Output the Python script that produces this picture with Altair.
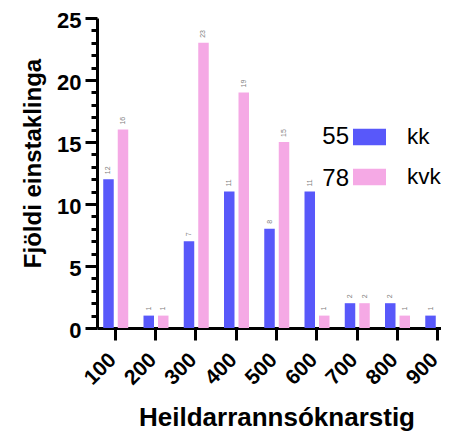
import altair as alt
import pandas as pd

categories = [100, 200, 300, 400, 500, 600, 700, 800, 900]
kk_values = [12, 1, 7, 11, 8, 11, 2, 2, 1]
kvk_values = [16, 1, 23, 19, 15, 1, 2, 1, 0]
series_names = ["kk", "kvk"]
series_colors = ["#5858FA", "#F5A9E5"]
y_ticks = list(range(26))

FONT = "Liberation Sans"

df = pd.DataFrame({
    "cat": categories * 2,
    "series": ["kk"] * len(categories) + ["kvk"] * len(categories),
    "value": kk_values + kvk_values,
})
legend_df = pd.DataFrame({"series": series_names,
                          "count": [sum(kk_values), sum(kvk_values)]})

x_scale = alt.Scale(domain=[55.3, 909.9], nice=False, zero=False, padding=0)
y_scale = alt.Scale(domain=[0, 25], nice=False, zero=True)

x_axis = alt.Axis(values=categories, title="Heildarrannsóknarstig", labelAngle=-45,
                  labelAlign="right", labelBaseline="middle", labelFontSize=21,
                  labelFontWeight="bold", labelPadding=16.5, labelOffset=-2.5, tickSize=12,
                  tickWidth=3, domainWidth=3, titleFontSize=26, titleFontWeight="bold",
                  titleX=179.5, titleY=97, titleBaseline="alphabetic", titleAlign="center",
                  grid=False, labelFlush=False, labelOverlap=False)
y_axis = alt.Axis(orient="left", values=y_ticks,
                  labelExpr="datum.value % 5 === 0 ? datum.label : ''",
                  title="Fjöldi einstaklinga", labelFontSize=22,
                  labelFontWeight="bold", labelPadding=4, labelOffset=2.5,
                  tickSize={"condition": {"test": "datum.value % 5 === 0", "value": 12},
                            "value": 6},
                  tickWidth=3, domainWidth=3, titleFontSize=24, titleFontWeight="bold",
                  titleAngle=270, titleX=-57, titleY=145, titleBaseline="alphabetic",
                  titleAlign="center", grid=False, labelOverlap=False)

color = alt.Color(
    "series:N",
    scale=alt.Scale(domain=series_names, range=series_colors),
    legend=alt.Legend(orient="none", legendX=256, legendY=102.5, title=None,
                      symbolType="M-1,-0.5H1V0.5H-1Z", symbolSize=1089,
                      symbolStrokeWidth=0, labelFont=FONT, labelFontSize=22.5,
                      labelColor="black", labelOffset=21, rowPadding=12, padding=0),
)

bars_kk = alt.Chart(df).transform_filter("datum.series == 'kk'").mark_bar(
    width=10.5, xOffset=-6.5).encode(
    x=alt.X("cat:Q", scale=x_scale, axis=x_axis),
    y=alt.Y("value:Q", scale=y_scale, axis=y_axis),
    color=color,
)
bars_kvk = alt.Chart(df).transform_filter("datum.series == 'kvk' && datum.value > 0").mark_bar(
    width=10.5, xOffset=8).encode(
    x=alt.X("cat:Q", scale=x_scale, axis=x_axis),
    y=alt.Y("value:Q", scale=y_scale, axis=None),
    color=color,
)

def labels(name, off):
    return alt.Chart(df).transform_filter(
        f"datum.series == '{name}' && datum.value > 0").mark_text(
        angle=270, align="left", baseline="middle", fontSize=7, color="#808080",
        font=FONT, xOffset=off, yOffset=-5).encode(
        x=alt.X("cat:Q", scale=x_scale, axis=x_axis),
        y=alt.Y("value:Q", scale=y_scale, axis=None),
        text="value:Q",
    )

counts = alt.Chart(legend_df).mark_text(
    align="right", baseline="middle", fontSize=24, font=FONT, color="black").encode(
    x=alt.value(252),
    y=alt.Y("series:N", scale=alt.Scale(type="point", domain=series_names,
                                        range=[119, 160.5], padding=0), axis=None),
    text="count:Q",
)

chart = alt.layer(bars_kk, bars_kvk, labels("kk", -6.5), labels("kvk", 8), counts).resolve_scale(
    y="independent"
).properties(
    width=344, height=310,
    padding={"left": 89, "top": 10, "right": 0, "bottom": 104},
    autosize=alt.AutoSizeParams(type="none"),
    background="white",
).configure_view(stroke=None).configure_axis(
    labelFont=FONT, titleFont=FONT, labelColor="black", titleColor="black",
    domainColor="black", tickColor="black",
)

chart.save("out.html", embed_options={"renderer": "svg", "actions": False})
